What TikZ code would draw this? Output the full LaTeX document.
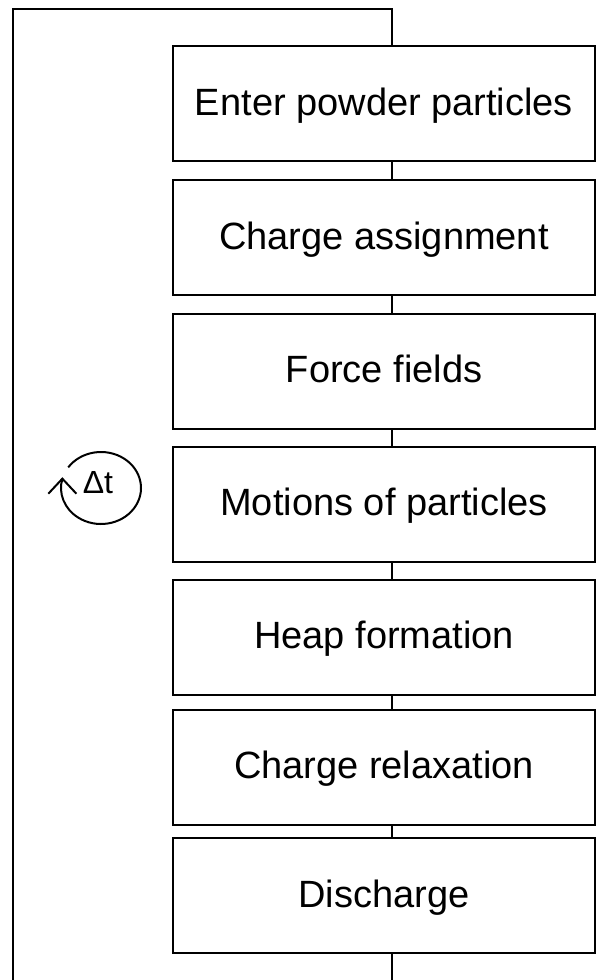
\documentclass[tikz,border=0pt]{standalone}
\usepackage{fontspec}
\setmainfont{Liberation Sans}

\tikzset{
  stepbox/.style={draw=black, line width=2pt, fill=white, rectangle,
    minimum width=422pt, minimum height=115pt, inner sep=0pt,
    text height=29pt, text depth=6pt,
    font=\fontsize{38}{44}\selectfont},
  link/.style={draw=black, line width=2pt},
}

\begin{document}
\begin{tikzpicture}[x=1pt, y=-1pt]
  \clip (0,0) rectangle (597,980);
  \fill[white] (0,0) rectangle (597,980);

  % process steps
  \node[stepbox] (b1) at (384,103.5) {Enter powder particles};
  \node[stepbox] (b2) at (384,237.5) {Charge assignment};
  \node[stepbox] (b3) at (384,371)   {Force fields};
  \node[stepbox] (b4) at (384,504)   {Motions of particles};
  \node[stepbox] (b5) at (384,637)   {Heap formation};
  \node[stepbox] (b6) at (384,767)   {Charge relaxation};
  \node[stepbox] (b7) at (384,895.5) {Discharge};

  % links between consecutive steps
  \foreach \a/\b in {b1/b2,b2/b3,b3/b4,b4/b5,b5/b6,b6/b7}
    \draw[link] ([xshift=8pt]\a.south) -- ([xshift=8pt]\b.north);

  % time-step loop around the whole sequence
  \coordinate (tl) at (13,9);
  \coordinate (bl) at (13,995);
  \draw[link] ([xshift=8pt]b1.north) |- (tl) -- (bl) -| ([xshift=8pt]b7.south);

  % time-step symbol: circular arrow round the label
  \coordinate (cc) at (101,488);
  \node[font=\fontsize{32}{38}\selectfont, inner sep=0pt] (dt) at (98,483) {Δt};
  \draw[link] ([shift={(145:40pt and 36pt)}]cc) arc[start angle=145, end angle=-195,
      x radius=40pt, y radius=36pt] coordinate (tip);
  \draw[link, line join=miter]
    ([shift={(-14pt,-15pt)}]tip) -- (tip) -- ([shift={(14pt,-15pt)}]tip);
\end{tikzpicture}
\end{document}
